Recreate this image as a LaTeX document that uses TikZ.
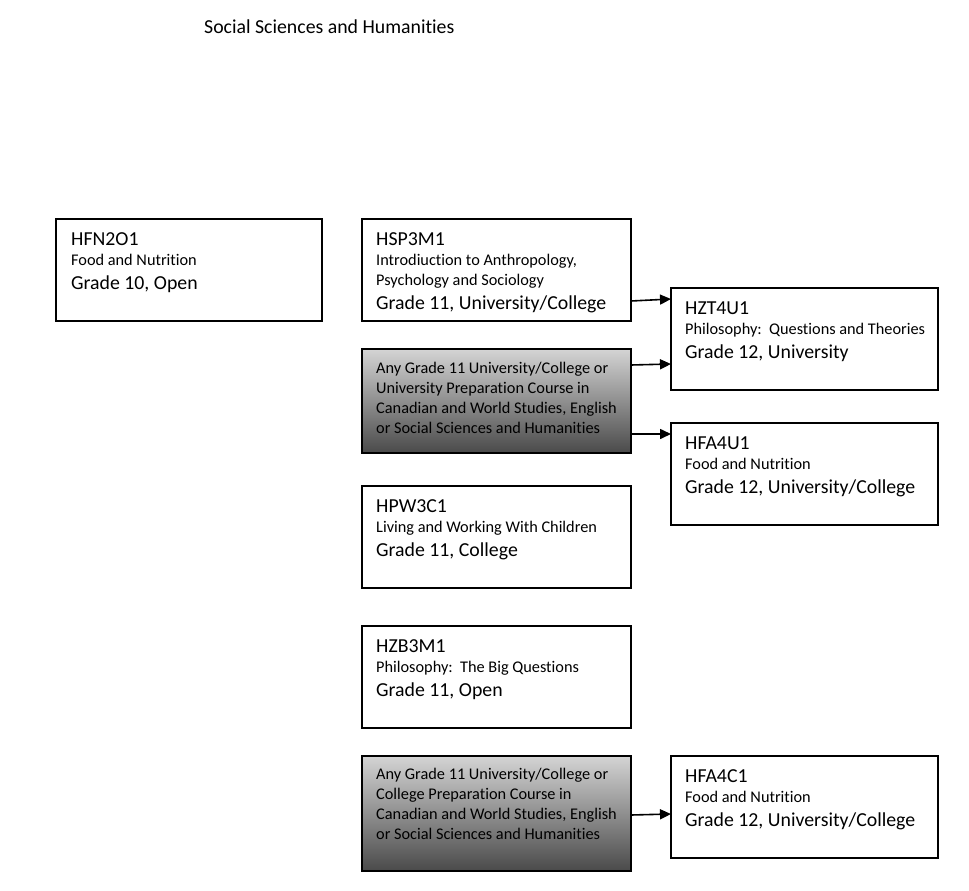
\documentclass[tikz,border=0pt]{standalone}
\usepackage{fontspec}
\setmainfont{Carlito}[Ligatures=NoCommon]
\usepackage{tikz}
\usepackage{xcolor}
\usetikzlibrary{positioning,arrows.meta}

\definecolor{shadetop}{RGB}{212,212,212}
\definecolor{shadebot}{RGB}{74,74,74}
\newcommand{\bigline}[1]{{\fontsize{19.8}{20}\selectfont #1}}

\tikzset{
  course/.style={draw, line width=1.6pt, minimum width=269pt, minimum height=102pt,
    inner sep=0pt, outer sep=0pt, anchor=north west},
  prereq/.style={course, top color=shadetop, bottom color=shadebot},
  info/.style={align=left, inner sep=0pt, anchor=north west,
    font=\fontsize{16.3}{20}\selectfont},
  link/.style={-{Triangle[length=11pt,width=10pt]}, line width=1.6pt}
}

\begin{document}
\begin{tikzpicture}[x=1pt,y=1pt]
  \useasboundingbox (0,0) rectangle (969,-891);

  \node [anchor=base west, inner sep=0pt, font=\fontsize{19.8}{20}\selectfont] (title) at (204,-34) {Social Sciences and Humanities};

  % boxes
  \node [course, minimum width=266pt] (hfn) at (56,-219) {};
  \node [course] (hsp) at (362,-219) {};
  \node [prereq, minimum height=104pt] [below=28pt of hsp] (anyuc) {};
  \node [course] [below=33pt of anyuc] (hpw) {};
  \node [course] [below=38pt of hpw] (hzb) {};
  \node [prereq, minimum height=115pt] [below=28pt of hzb] (anyc) {};
  \node [course, minimum width=267pt] (hzt) at (671,-288) {};
  \node [course, minimum width=267pt] [below=33pt of hzt] (hfau) {};
  \node [course, minimum width=267pt] (hfac) at (hfau.south west |- anyc.north) {};

  % texts
  \node [info] [below right=13.5pt and 15pt of hfn.north west] (hfntext)
    {\bigline{HFN2O1}\\Food and Nutrition\\[4pt]\bigline{Grade 10, Open}};
  \node [info] [below right=13.5pt and 14pt of hsp.north west] (hsptext)
    {\bigline{HSP3M1}\\Introdiuction to Anthropology,\\Psychology and Sociology\\[4pt]\bigline{Grade 11, University/College}};
  \node [info] [below right=12.5pt and 14pt of anyuc.north west] (anyuctext)
    {Any Grade 11 University/College or\\University Preparation Course in\\Canadian and World Studies, English\\or Social Sciences and Humanities};
  \node [info] [below right=13.5pt and 14pt of hpw.north west] (hpwtext)
    {\bigline{HPW3C1}\\Living and Working With Children\\[4pt]\bigline{Grade 11, College}};
  \node [info] [below right=13.5pt and 14pt of hzb.north west] (hzbtext)
    {\bigline{HZB3M1}\\Philosophy:\ \ The Big Questions\\[4pt]\bigline{Grade 11, Open}};
  \node [info] [below right=11.5pt and 14pt of anyc.north west] (anyctext)
    {Any Grade 11 University/College or\\College Preparation Course in\\Canadian and World Studies, English\\or Social Sciences and Humanities};
  \node [info] [below right=13.5pt and 14pt of hzt.north west] (hzttext)
    {\bigline{HZT4U1}\\Philosophy:\ \ Questions and Theories\\[4pt]\bigline{Grade 12, University}};
  \node [info] [below right=13.5pt and 14pt of hfau.north west] (hfautext)
    {\bigline{HFA4U1}\\Food and Nutrition\\[4pt]\bigline{Grade 12, University/College}};
  \node [info] [below right=13.5pt and 14pt of hfac.north west] (hfactext)
    {\bigline{HFA4C1}\\Food and Nutrition\\[4pt]\bigline{Grade 12, University/College}};

  % arrows
  \draw [link] ([yshift=20pt]hsp.south east) -- ([yshift=-11pt]hzt.north west);
  \draw [link] ([yshift=-16pt]anyuc.north east) -- ([yshift=-76pt]hzt.north west);
  \draw [link] ([yshift=-85pt]anyuc.north east) -- ([yshift=-11pt]hfau.north west);
  \draw [link] ([yshift=-59pt]anyc.north east) -- ([yshift=-58pt]hfac.north west);
\end{tikzpicture}
\end{document}
